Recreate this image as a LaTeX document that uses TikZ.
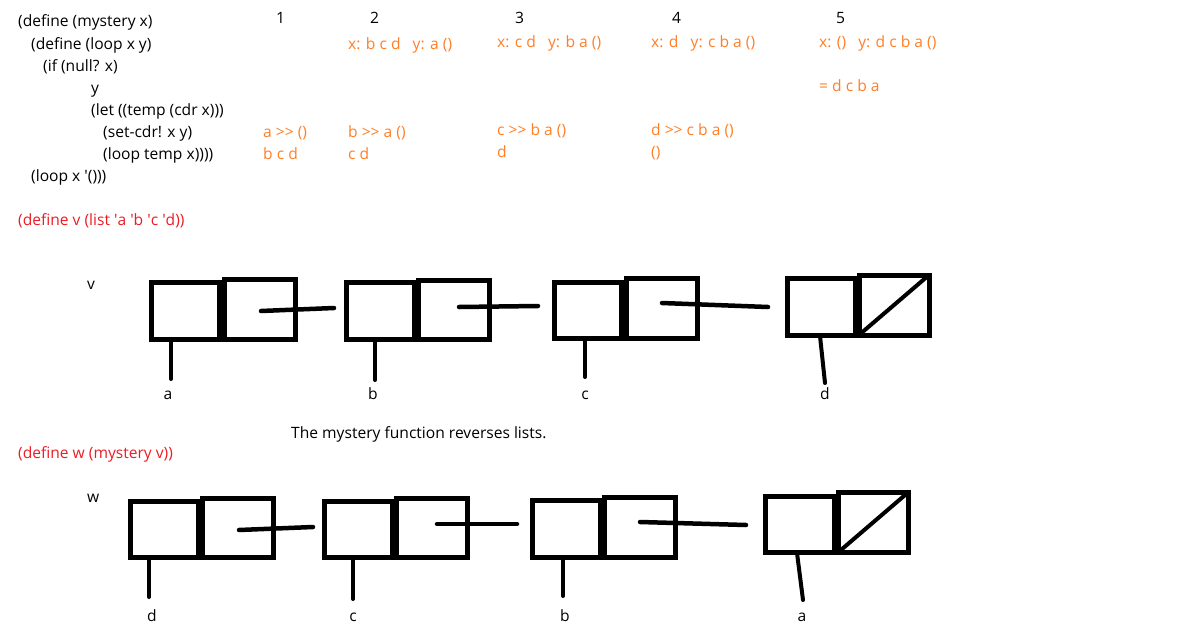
\documentclass[tikz,border=0pt]{standalone}
\usepackage{fontspec}
\setmainfont{Open Sans}
\definecolor{paintorange}{RGB}{255,127,39}
\definecolor{paintred}{RGB}{237,28,36}
\newcommand{\qq}{\textquotesingle}
\newcommand{\twogt}{\textgreater\kern0pt\textgreater}
\begin{document}
\begin{tikzpicture}[x=1pt,y=-1pt,
  txt/.style={anchor=base west, inner sep=0pt, font=\fontsize{15.6}{18}\selectfont},
  code/.style={txt, text=black},
  note/.style={txt, text=paintorange},
  redcode/.style={txt, text=paintred},
  lbl/.style={anchor=base, inner sep=0pt, font=\fontsize{15.6}{18}\selectfont},
  cell/.style={draw, line width=5pt, rectangle, inner sep=0pt, outer sep=0pt},
  ptr/.style={line width=4.5pt, line cap=round},
  carline/.style={line width=4pt, line cap=round},
  nilline/.style={line width=4pt}]
\useasboundingbox[fill=white] (0,0) rectangle (1190,642);

% code
\node[code] (c1) at (18,27) {(define (mystery x)};
\node[code] (c2) at (31,49) {(define (loop x y)};
\node[code] (c3) at (43,71) {(if (null? x)};
\node[code] (c4) at (91,93) {y};
\node[code] (c5) at (91,115) {(let ((temp (cdr x)))};
\node[code] (c6) at (103,137) {(set-cdr! x y)};
\node[code] (c7) at (103,159) {(loop temp x))))};
\node[code] (c8) at (31,181) {(loop x \qq()))};
\node[redcode] (r1) at (18,225) {(define v (list \qq a \qq b \qq c \qq d))};

% step numbers
\node[code] (n1) at (276,24) {1};
\node[code] (n2) at (370,24) {2};
\node[code] (n3) at (515,24) {3};
\node[code] (n4) at (672,24) {4};
\node[code] (n5) at (836,24) {5};

% orange trace
\node[note] (o2a) at (348,49) {x: b c d~~~y: a ()};
\node[note] (o3a) at (497,48) {x: c d~~~y: b a ()};
\node[note] (o4a) at (651,48) {x: d~~~y: c b a ()};
\node[note] (o5a) at (819,48) {x: ()~~~y: d c b a ()};
\node[note] (o5b) at (819,91) {= d c b a};
\node[note] (o1b) at (263,137) {a \twogt{} ()};
\node[note] (o1c) at (263,159) {b c d};
\node[note] (o2b) at (348,137) {b \twogt{} a ()};
\node[note] (o2c) at (348,159) {c d};
\node[note] (o3b) at (497,135) {c \twogt{} b a ()};
\node[note] (o3c) at (497,157) {d};
\node[note] (o4b) at (651,135) {d \twogt{} c b a ()};
\node[note] (o4c) at (651,157) {()};

% v list
\node[code] (vlab) at (87,289) {v};
\node[cell, minimum width=68pt, minimum height=57pt] (v1l) at (185.5,311) {};
\node[cell, minimum width=70.5pt, minimum height=60.5pt] (v1r) at (259.75,309.25) {};
\node[cell, minimum width=68pt, minimum height=56.5pt] (v2l) at (380,310.75) {};
\node[cell, minimum width=71pt, minimum height=59pt] (v2r) at (453.5,309.5) {};
\node[cell, minimum width=67.5pt, minimum height=56.5pt] (v3l) at (587.75,310.25) {};
\node[cell, minimum width=71pt, minimum height=60pt] (v3r) at (661.5,308.5) {};
\node[cell, minimum width=67.5pt, minimum height=56.5pt] (v4l) at (821.25,306.75) {};
\node[cell, minimum width=70pt, minimum height=60pt] (v4r) at (894,305) {};
\draw[nilline] (v4r.south west) -- (v4r.north east);

\coordinate (v1s) at (261,311); \coordinate (v1e) at (334,308);
\coordinate (v2s) at (459,307); \coordinate (v2e) at (538,306);
\coordinate (v3s) at (662,303); \coordinate (v3e) at (768,307);
\draw[ptr] (v1s) -- (v1e);
\draw[ptr] (v2s) -- (v2e);
\draw[ptr] (v3s) -- (v3e);

\coordinate (v1a) at (171,379);
\coordinate (v2a) at (375,380);
\coordinate (v3a) at (585,377);
\coordinate (v4s) at (820,336); \coordinate (v4a) at (825,383);
\draw[carline] (v1l.south -| v1a) -- (v1a);
\draw[carline] (v2l.south -| v2a) -- (v2a);
\draw[carline] (v3l.south -| v3a) -- (v3a);
\draw[carline] (v4s) -- (v4a);

\node[lbl] (la1) at (168,399) {a};
\node[lbl] (lb1) at (373,399) {b};
\node[lbl] (lc1) at (585,399) {c};
\node[lbl] (ld1) at (825,399) {d};

\node[code] (note) at (291,438) {The mystery function reverses lists.};
\node[redcode] (r2) at (18,458) {(define w (mystery v))};

% w list
\node[code] (wlab) at (87,502) {w};
\node[cell, minimum width=68.5pt, minimum height=56pt] (w1l) at (164.25,529.5) {};
\node[cell, minimum width=70.5pt, minimum height=59.5pt] (w1r) at (237.75,527.75) {};
\node[cell, minimum width=68.5pt, minimum height=56pt] (w2l) at (358.25,529.5) {};
\node[cell, minimum width=70.5pt, minimum height=59.5pt] (w2r) at (431.75,527.75) {};
\node[cell, minimum width=68.5pt, minimum height=57pt] (w3l) at (566.25,528.5) {};
\node[cell, minimum width=70.5pt, minimum height=60pt] (w3r) at (639.75,527) {};
\node[cell, minimum width=69pt, minimum height=56.5pt] (w4l) at (799.5,524.25) {};
\node[cell, minimum width=70pt, minimum height=60pt] (w4r) at (873,522.5) {};
\draw[nilline] (w4r.south west) -- (w4r.north east);

\coordinate (w1s) at (239,530); \coordinate (w1e) at (313,527);
\coordinate (w2s) at (437,524); \coordinate (w2e) at (517,524);
\coordinate (w3s) at (640,522); \coordinate (w3e) at (746,525);
\draw[ptr] (w1s) -- (w1e);
\draw[ptr] (w2s) -- (w2e);
\draw[ptr] (w3s) -- (w3e);

\coordinate (w1a) at (149,597);
\coordinate (w2a) at (353,599);
\coordinate (w3a) at (563,596);
\coordinate (w4s) at (797,553); \coordinate (w4a) at (803,600);
\draw[carline] (w1l.south -| w1a) -- (w1a);
\draw[carline] (w2l.south -| w2a) -- (w2a);
\draw[carline] (w3l.south -| w3a) -- (w3a);
\draw[carline] (w4s) -- (w4a);

\node[lbl] (ld2) at (152,621) {d};
\node[lbl] (lc2) at (353,621) {c};
\node[lbl] (lb2) at (565,621) {b};
\node[lbl] (la2) at (802,621) {a};
\end{tikzpicture}
\end{document}
